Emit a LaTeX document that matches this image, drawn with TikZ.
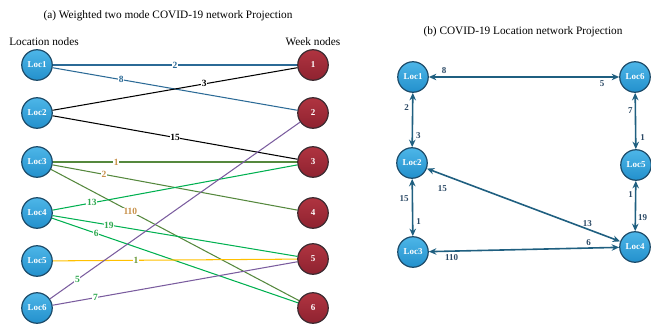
\documentclass[tikz,border=0pt]{standalone}
\usepackage{fontspec}
\setmainfont{Liberation Serif}
\usetikzlibrary{arrows.meta}

\definecolor{locTop}{HTML}{4DB6E8}
\definecolor{locBot}{HTML}{2390CC}
\definecolor{locLine}{HTML}{1C4A68}
\definecolor{wkTop}{HTML}{B03440}
\definecolor{wkBot}{HTML}{8E2230}
\definecolor{wkLine}{HTML}{3A2A30}
\definecolor{eBlue}{HTML}{2B6A96}
\definecolor{eOlive}{HTML}{55883D}
\definecolor{eGreen}{HTML}{00B050}
\definecolor{eYellow}{HTML}{FFC000}
\definecolor{ePurple}{HTML}{7A5C9E}
\definecolor{lTan}{HTML}{C8914A}
\definecolor{lOlive}{HTML}{6A9A3A}
\definecolor{lGreen}{HTML}{2FA84F}
\definecolor{arrBlue}{HTML}{1F5F80}
\definecolor{numBlue}{HTML}{2C4A66}

\begin{document}
\begin{tikzpicture}[x=1pt,y=-1pt,
  node base/.style={circle, minimum size=30.5pt, inner sep=0pt, line width=1.2pt,
    text=white, font=\fontsize{9}{10}\selectfont\bfseries},
  loc/.style={node base, draw=locLine, top color=locTop, bottom color=locBot},
  week/.style={node base, draw=wkLine, top color=wkTop, bottom color=wkBot},
  edge/.style={line width=1.05pt},
  lab/.style={fill=white, inner sep=0.6pt, font=\fontsize{9.5}{10}\selectfont\bfseries},
  link/.style={line width=1.6pt, draw=arrBlue,
    {Stealth[length=7.5pt,width=6.5pt]}-{Stealth[length=7.5pt,width=6.5pt]}},
  num/.style={text=numBlue, inner sep=1pt, font=\fontsize{9}{10}\selectfont\bfseries},
  heading/.style={font=\fontsize{11.3}{13}\selectfont}
]
\useasboundingbox (0,0) rectangle (651,326);

% ---------- (a) two mode network ----------
\node[heading] (ta) at (168,16) {(a) Weighted two mode COVID-19 network Projection};
\node[heading] (hl) at (44,42) {Location nodes};
\node[heading] (hw) at (313,42) {Week nodes};

\node[loc] (L1) at (37,65)  {Loc1};
\node[loc] (L2) at (37,113) {Loc2};
\node[loc] (L3) at (37,162) {Loc3};
\node[loc] (L4) at (37,213) {Loc4};
\node[loc] (L5) at (37,261) {Loc5};
\node[loc] (L6) at (37,308) {Loc6};

\node[week] (W1) at (313,65)  {1};
\node[week] (W2) at (313,113) {2};
\node[week] (W3) at (313,162) {3};
\node[week] (W4) at (313,213) {4};
\node[week] (W5) at (313,259) {5};
\node[week] (W6) at (313,308) {6};

\draw[edge, eBlue] (L1) -- node[lab, pos=0.5, text=eBlue] {2} (W1);
\draw[edge, eBlue] (L1) -- node[lab, pos=0.28, text=eBlue] {8} (W2);
\draw[edge, black] (L2) -- node[lab, pos=0.62] {3} (W1);
\draw[edge, black] (L2) -- node[lab, pos=0.5] {15} (W3);
\draw[edge, eOlive] (L3) -- node[lab, pos=0.26, text=lTan] {1} (W3);
\draw[edge, eOlive] (L3) -- node[lab, pos=0.21, text=lTan] {2} (W4);
\draw[edge, eOlive] (L3) -- node[lab, pos=0.32, text=lTan] {110} (W6);
\draw[edge, eGreen] (L4) -- node[lab, pos=0.16, text=lGreen] {13} (W3);
\draw[edge, eGreen] (L4) -- node[lab, pos=0.23, text=lGreen] {19} (W5);
\draw[edge, eGreen] (L4) -- node[lab, pos=0.18, text=lGreen] {6} (W6);
\draw[edge, eYellow] (L5) -- node[lab, pos=0.34, text=lOlive] {1} (W5);
\draw[edge, ePurple] (L6) -- node[lab, pos=0.11, text=lGreen] {5} (W2);
\draw[edge, ePurple] (L6) -- node[lab, pos=0.175, text=lGreen] {7} (W5);

% ---------- (b) location projection ----------
\node[heading] (tb) at (523,32) {(b) COVID-19 Location network Projection};

\node[loc] (R1) at (413,77)  {Loc1};
\node[loc] (R6) at (635,77)  {Loc6};
\node[loc] (R2) at (412,163) {Loc2};
\node[loc] (R5) at (636,165) {Loc5};
\node[loc] (R3) at (413,252) {Loc3};
\node[loc] (R4) at (635,247) {Loc4};

\draw[link] (R1) -- node[num, pos=0.08, above=2pt] {8} node[num, pos=0.91, below=2pt] {5} (R6);
\draw[link] (R1) -- node[num, pos=0.27, left=2pt] {2} node[num, pos=0.78, right=2pt] {3} (R2);
\draw[link] (R6) -- node[num, pos=0.32, left=1pt] {7} node[num, pos=0.79, right=3pt] {1} (R5);
\draw[link] (R2) -- node[num, pos=0.34, left=2pt] {15} node[num, pos=0.75, right=2pt] {1} (R3);
\draw[link] (R2) -- node[num, pos=0.08, below=9pt] {15} node[num, pos=0.83, above=1pt] {13} (R4);
\draw[link] (R3) -- node[num, pos=0.84, above=1pt] {6} node[num, pos=0.12, below=2pt] {110} (R4);
\draw[link] (R5) -- node[num, pos=0.28, left=1pt] {1} node[num, pos=0.73, right=1pt] {19} (R4);
\end{tikzpicture}
\end{document}
